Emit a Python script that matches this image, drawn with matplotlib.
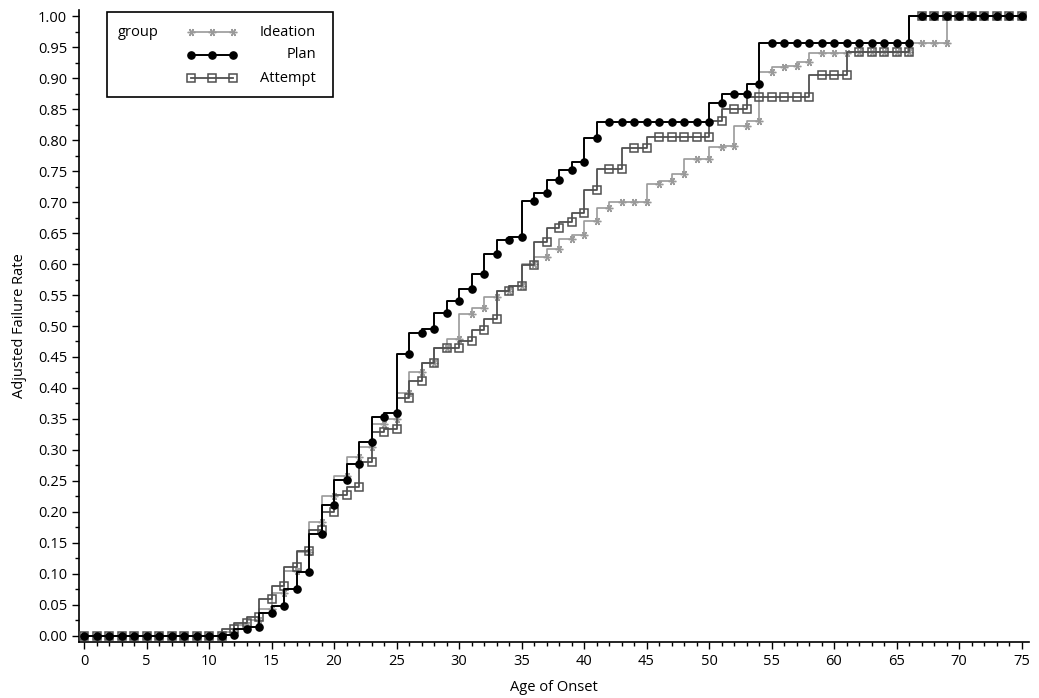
import matplotlib
matplotlib.use("Agg")
import matplotlib.pyplot as plt
from matplotlib.lines import Line2D
from matplotlib.patches import Rectangle
from matplotlib.ticker import MultipleLocator
import numpy as np

# Age of onset (years) and adjusted failure rate per group
ages = np.arange(0, 76)

ideation = ([0.0] * 12 +
            [0.007, 0.017, 0.025, 0.043, 0.069, 0.105, 0.136, 0.184, 0.226, 0.258,
             0.289, 0.305, 0.342, 0.350, 0.392, 0.425, 0.440, 0.465, 0.479, 0.519,
             0.529, 0.547, 0.556, 0.565, 0.600, 0.611, 0.624, 0.640, 0.646, 0.669] +
            [0.691, 0.700, 0.700, 0.700, 0.729, 0.734, 0.745, 0.770, 0.770, 0.788,
             0.791, 0.823, 0.830] +
            [0.909, 0.917, 0.919, 0.926, 0.941, 0.941, 0.941] +
            [0.942] * 5 + [0.956] * 3 + [1.0] * 6)

plan = ([0.0] * 12 +
        [0.002, 0.011, 0.015, 0.037, 0.048, 0.075, 0.104, 0.164, 0.212, 0.252,
         0.277, 0.313, 0.353, 0.360, 0.455, 0.488, 0.495, 0.521, 0.541, 0.560,
         0.584, 0.616, 0.638, 0.643, 0.702, 0.714, 0.735, 0.751, 0.764, 0.804] +
        [0.829] * 9 + [0.860, 0.874, 0.874, 0.890] +
        [0.956] * 12 + [1.0] * 9)

attempt = ([0.0] * 12 +
           [0.011, 0.021, 0.030, 0.059, 0.081, 0.111, 0.137, 0.171, 0.200, 0.227,
            0.241, 0.280, 0.329, 0.334, 0.384, 0.411, 0.440, 0.465, 0.465, 0.476,
            0.493, 0.511, 0.556, 0.565, 0.598, 0.636, 0.658, 0.667, 0.683, 0.720] +
           [0.754, 0.754, 0.787, 0.787] + [0.805] * 5 + [0.830, 0.850, 0.850] +
           [0.870] * 5 + [0.905] * 3 + [0.942] * 5 + [1.0] * 9)

group_names = ["Ideation", "Plan", "Attempt"]

plt.rcParams['font.family'] = ['Open Sans', 'DejaVu Sans']
plt.rcParams['font.size'] = 10

W, H = 1039, 698
fig = plt.figure(figsize=(W / 100, H / 100), dpi=100)
ax = fig.add_axes([79 / W, 1 - 642 / H, 950 / W, 632 / H])

styles = {
    "Ideation": dict(color="#9a9a9a", marker=(6, 2, 90), markersize=5.5,
                     markerfacecolor="#9a9a9a", markeredgecolor="#9a9a9a",
                     markeredgewidth=1.0, lw=1.2, zorder=2),
    "Plan": dict(color="black", marker="o", markersize=5.2,
                 markerfacecolor="black", markeredgecolor="black",
                 lw=1.4, zorder=4),
    "Attempt": dict(color="#505050", marker="s", markersize=6,
                    markerfacecolor="none", markeredgecolor="#505050",
                    markeredgewidth=1.1, lw=1.3, zorder=3),
}

series = {"Ideation": ideation, "Plan": plan, "Attempt": attempt}
for name in group_names:
    ax.plot(ages, series[name], drawstyle="steps-pre", **styles[name])

ax.set_xlim(-0.4, 75.6)
ax.set_ylim(-0.0097, 1.0097)
ax.xaxis.set_major_locator(MultipleLocator(5))
ax.xaxis.set_minor_locator(MultipleLocator(1))
ax.yaxis.set_major_locator(MultipleLocator(0.05))
ax.yaxis.set_minor_locator(MultipleLocator(0.025))
ax.yaxis.set_major_formatter(matplotlib.ticker.FormatStrFormatter("%.2f"))
ax.tick_params(which="major", direction="out", length=5, width=1, labelsize=10.5)
ax.tick_params(which="minor", direction="out", length=3, width=1)
for s in ("top", "right"):
    ax.spines[s].set_visible(False)
for s in ("left", "bottom"):
    ax.spines[s].set_linewidth(1.2)

ax.set_xlabel("Age of Onset", fontsize=10.5, labelpad=8)
ax.set_ylabel("Adjusted Failure Rate", fontsize=10.5, labelpad=8)

# legend drawn by hand: "group" title at left, samples, right-aligned labels
tf = fig.transFigure
fig.patches.append(Rectangle((107 / W, 1 - 97 / H), 226 / W, 85 / H,
                             transform=tf, fill=False, edgecolor="black", lw=1.2))
fig.text(118 / W, 1 - 32 / H, "group", transform=tf, va="center", ha="left",
         fontsize=10.5)
for i, name in enumerate(group_names):
    yy = 1 - (32 + 23 * i) / H
    st = dict(styles[name])
    st.pop("zorder")
    fig.lines.append(Line2D([191 / W, 212 / W, 233 / W], [yy, yy, yy],
                            transform=tf, **st))
    fig.text(316 / W, yy, name, transform=tf, va="center", ha="right",
             fontsize=10.5)

fig.savefig("out.png", dpi=100)
